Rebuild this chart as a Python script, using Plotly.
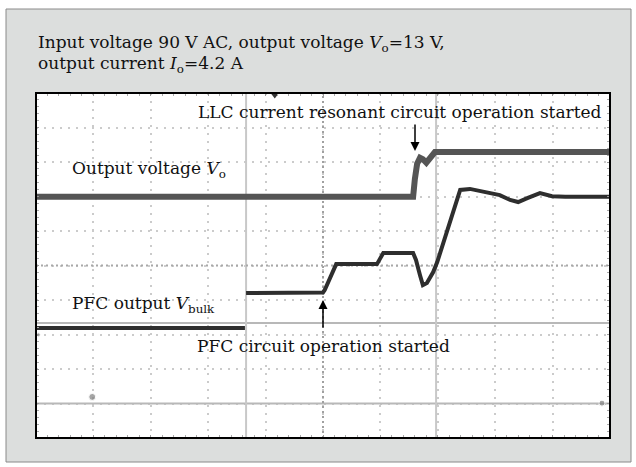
import plotly.graph_objects as go

# ---- data (oscilloscope divisions: x 0..10, y 0..10) ----
vo_x = [0, 6.57, 6.60, 6.64, 6.69, 6.74, 6.80, 6.86, 6.95, 10]
vo_y = [6.99, 6.99, 7.50, 7.95, 8.12, 8.08, 7.98, 8.12, 8.29, 8.29]

vbulk_x = [0, 3.64, None, 3.66, 5.00, 5.03, 5.23, 5.94, 6.05, 6.57, 6.62, 6.69, 6.74,
           6.81, 6.92, 6.99, 7.13, 7.25, 7.39, 7.56, 7.86, 8.08, 8.26, 8.40, 8.57,
           8.78, 8.99, 9.22, 10]
vbulk_y = [3.19, 3.19, None, 4.20, 4.22, 4.29, 5.04, 5.04, 5.36, 5.36, 5.16, 4.72, 4.43,
           4.49, 4.81, 5.10, 5.83, 6.52, 7.19, 7.22, 7.13, 7.04, 6.90, 6.84, 6.96,
           7.10, 7.01, 6.99, 6.99]

ref_levels = [3.33, 1.0]      # flat reference traces
cursor_x = [3.66, 6.97]       # vertical cursor lines
marker_x = [0.98, 9.86, 0.04]
marker_y = [1.19, 1.01, 2.99]

title_l1 = "Input voltage 90 V AC, output voltage <i>V</i><sub>o</sub>=13 V,"
title_l2 = "output current <i>I</i><sub>o</sub>=4.2 A"
lbl_vo = "Output voltage <i>V</i><sub>o</sub>"
lbl_vbulk = "PFC output <i>V</i><sub>bulk</sub>"
lbl_llc = "LLC current resonant circuit operation started"
lbl_pfc = "PFC circuit operation started"

W, H = 636, 467
L, R, T, B = 36, 610, 93, 438
FONT = "DejaVu Serif"
FS = 17


def px(xp):
    return (xp - L) / (R - L)


def py(yp):
    return (B - yp) / (B - T)


fig = go.Figure()

# reference / cursor lines
for lv in ref_levels:
    fig.add_trace(go.Scatter(x=[0, 10], y=[lv, lv], mode="lines",
                             line=dict(color="#b8b8b8", width=2), hoverinfo="skip"))
for cx in cursor_x:
    fig.add_trace(go.Scatter(x=[cx, cx], y=[0, 10], mode="lines",
                             line=dict(color="#c8c8c8", width=2), hoverinfo="skip"))

# centre lines with ticks
fig.add_trace(go.Scatter(x=[5, 5], y=[0, 10], mode="lines",
                         line=dict(color="#a0a0a0", width=2, dash="2px,3px"), hoverinfo="skip"))
fig.add_trace(go.Scatter(x=[0, 10], y=[5, 5], mode="lines",
                         line=dict(color="#a8a8a8", width=2, dash="2px,3px"), hoverinfo="skip"))

fig.add_trace(go.Scatter(x=marker_x, y=marker_y, mode="markers",
                         marker=dict(color="#808080", size=[7, 6, 4]), hoverinfo="skip"))
fig.add_trace(go.Scatter(x=[4.16], y=[9.93], mode="markers",
                         marker=dict(color="#333", size=6, symbol="triangle-down"), hoverinfo="skip"))

# signal traces
fig.add_trace(go.Scatter(x=vo_x, y=vo_y, mode="lines",
                         line=dict(color="#555555", width=6), hoverinfo="skip"))
fig.add_trace(go.Scatter(x=vbulk_x, y=vbulk_y, mode="lines",
                         line=dict(color="#2e2e2e", width=4), hoverinfo="skip"))

shapes = [
    dict(type="rect", xref="paper", yref="paper", x0=px(6), x1=px(631), y0=py(462), y1=py(9),
         fillcolor="#dcdedd", line=dict(color="#8a8a8a", width=1), layer="below"),
    dict(type="rect", xref="paper", yref="paper", x0=0, x1=1, y0=0, y1=1,
         fillcolor="white", line=dict(width=0), layer="below"),
    dict(type="rect", xref="paper", yref="paper", x0=0, x1=1, y0=0, y1=1,
         line=dict(color="black", width=2), layer="above"),
]


def label(text, x_left, baseline, anchor="left"):
    return dict(xref="paper", yref="paper", x=px(x_left), y=py(baseline + 6),
                xanchor=anchor, yanchor="bottom", text=text, showarrow=False,
                font=dict(family=FONT, size=FS, color="#111"))


annotations = [
    label(title_l1, 36, 51),
    label(title_l2, 36, 72),
    label(lbl_llc, 604, 118, anchor="right"),
    label(lbl_vo, 70, 177),
    label(lbl_vbulk, 70, 312),
    label(lbl_pfc, 195, 352),
    # arrows
    dict(x=(415 - L) / 57.4, y=(B - 151) / 34.5, ax=(415 - L) / 57.4, ay=(B - 123) / 34.5,
         xref="x", yref="y", axref="x", ayref="y", text="", showarrow=True,
         arrowhead=2, arrowsize=1.2, arrowwidth=1.5, arrowcolor="black"),
    dict(x=5.0, y=(B - 300) / 34.5, ax=5.0, ay=(B - 329) / 34.5,
         xref="x", yref="y", axref="x", ayref="y", text="", showarrow=True,
         arrowhead=2, arrowsize=1.2, arrowwidth=1.5, arrowcolor="black"),
]

axis_common = dict(range=[0, 10], dtick=1, showticklabels=False, zeroline=False,
                   showgrid=True, gridcolor="#cbcbcb", griddash="2px,6px", gridwidth=1.5,
                   ticks="inside", ticklen=3, tickcolor="#999",
                   minor=dict(dtick=0.2, ticks="inside", ticklen=3, tickcolor="#aaa",
                              showgrid=False),
                   mirror="ticks", showline=False, fixedrange=True)

fig.update_layout(
    width=W, height=H,
    margin=dict(l=L, r=W - R, t=T, b=H - B),
    paper_bgcolor="white", plot_bgcolor="white",
    showlegend=False,
    shapes=shapes, annotations=annotations,
    xaxis=axis_common, yaxis=axis_common,
)

fig.write_html("out.html", config={"displayModeBar": False},
               post_script="document.body.style.margin='0';")
